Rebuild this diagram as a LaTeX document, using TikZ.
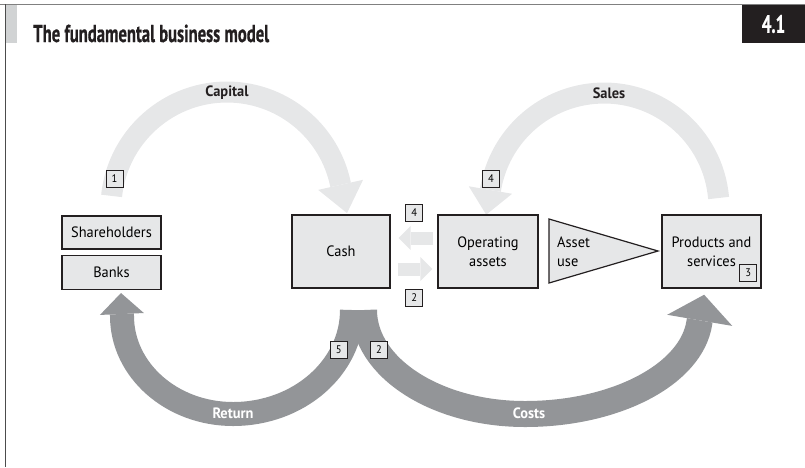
\documentclass[tikz,border=0pt]{standalone}
\usepackage{fontspec}
\setmainfont{PT Sans}[FakeStretch=0.96]
\newfontfamily\headfont{PT Sans}[FakeStretch=0.68,FakeBold=0.6]
\usetikzlibrary{arrows.meta, positioning}
\definecolor{lightflow}{HTML}{E6E7E8}
\definecolor{darkflow}{HTML}{939598}
\definecolor{ink}{HTML}{231F20}
\definecolor{barfill}{HTML}{D1D3D4}

\begin{document}
\begin{tikzpicture}[x=1pt,y=1pt,
	box/.style={draw=ink,line width=1.2pt,fill=lightflow,inner sep=0pt,align=center,font=\fontsize{15}{19}\selectfont},
	numbox/.style={draw=ink,line width=0.9pt,fill=lightflow,minimum width=17pt,minimum height=17pt,inner sep=0pt,font=\fontsize{11}{11}\selectfont},
	flowlbl/.style={inner sep=0pt,font=\bfseries\fontsize{15}{15}\selectfont}]
	\tikzset{lightarc/.style={color=lightflow,line width=21pt},
		darkarc/.style={color=darkflow,line width=24pt},
		smallflow/.style={color=lightflow,line width=13pt,-{Triangle[width=24pt,length=12pt,line width=0pt]}}}
	\useasboundingbox (0,0) rectangle (805,-467);
	% frame and heading
	\fill[barfill] (6,-5) rectangle (17,-43);
	\draw[black!50, line width=1pt] (0,-4.5) -- (805,-4.5);
	\draw[black!70, line width=1.2pt] (5.5,-4) -- (5.5,-467);
	\node[fill=ink,minimum width=63pt,minimum height=38pt,inner sep=0pt,text=white,font=\headfont\bfseries\fontsize{25}{25}\selectfont] (fignum) at (773.5,-24) {4.1};
	\node[anchor=base west,inner sep=0pt,text=ink,font=\headfont\bfseries\fontsize{24.5}{24.5}\selectfont] (title) at (33,-42) {The fundamental business model};
	% flows
	\coordinate (capstart) at (111.6,-195.9);
	\draw[lightarc, -{Triangle[width=46pt,length=29pt,line width=0pt]}] (capstart) arc[start angle=174, end angle=12.5, radius=116] -- ++(6.8,-30.2);
	\coordinate (salestart) at (718.6,-198);
	\draw[lightarc, -{Triangle[width=44pt,length=25pt,line width=0pt]}] (salestart) arc[start angle=5, end angle=170, radius=115] -- ++(-4.6,-26.6);
	\coordinate (retstart) at (352,-310);
	\draw[darkarc, -{Triangle[width=44pt,length=21pt,line width=0pt]}] (retstart) arc[start angle=0, end angle=-90, x radius=119, y radius=104] arc[start angle=270, end angle=180, x radius=111, y radius=98] -- ++(-1,23);
	\coordinate (coststart) at (364,-310);
	\draw[darkarc, line width=26pt, -{Triangle[width=66pt,length=26pt,line width=0pt]}] (coststart) arc[start angle=180, end angle=270, x radius=161, y radius=104] arc[start angle=270, end angle=355, x radius=175, y radius=100] -- ++(4.8,28);
	\node[flowlbl, text=ink] (capital) at (227,-93) {Capital};
	\node[flowlbl, text=ink] (sales) at (609,-93) {Sales};
	\node[flowlbl, text=white] (return) at (233,-413) {Return};
	\node[flowlbl, text=white] (costs) at (529,-413) {Costs};
	% boxes
	\node[box, minimum width=99pt, minimum height=33pt] (share) at (111.5,-232.5) {Shareholders};
	\node[box, minimum width=99pt, minimum height=34pt, below=5pt of share] (banks) {Banks};
	\node[box, minimum width=98pt, minimum height=73pt] (cash) at (341,-251.5) {Cash};
	\node[box, minimum width=100pt, minimum height=73pt] (opassets) at (488,-251.5) {Operating\\assets};
	\node[box, minimum width=99pt, minimum height=73pt] (products) at (711.5,-251.5) {Products and\\services};
	\draw[ink, line width=1.2pt, fill=lightflow] (549,-219) -- (658,-251) -- (549,-283) -- cycle;
	\node[anchor=west, align=left, inner sep=0pt, font=\fontsize{15}{19}\selectfont] (assetuse) at (557,-252) {Asset\\use};
	\draw[smallflow, shorten <=4pt, shorten >=8pt] ([yshift=13.5pt]opassets.west) -- ([yshift=13.5pt]cash.east);
	\draw[smallflow, shorten <=7pt, shorten >=5pt] ([yshift=-17.5pt]cash.east) -- ([yshift=-17.5pt]opassets.west);
	% step numbers
	\node[numbox] (n1) at (114.5,-178.5) {1};
	\node[numbox] (n4a) at (491,-179) {4};
	\node[numbox] (n4b) at (414.3,-212.8) {4};
	\node[numbox] (n2a) at (414.3,-297.5) {2};
	\node[numbox] (n3) at (748.3,-272.5) {3};
	\node[numbox] (n5) at (338.7,-350) {5};
	\node[numbox] (n2b) at (379,-350) {2};
\end{tikzpicture}
\end{document}
